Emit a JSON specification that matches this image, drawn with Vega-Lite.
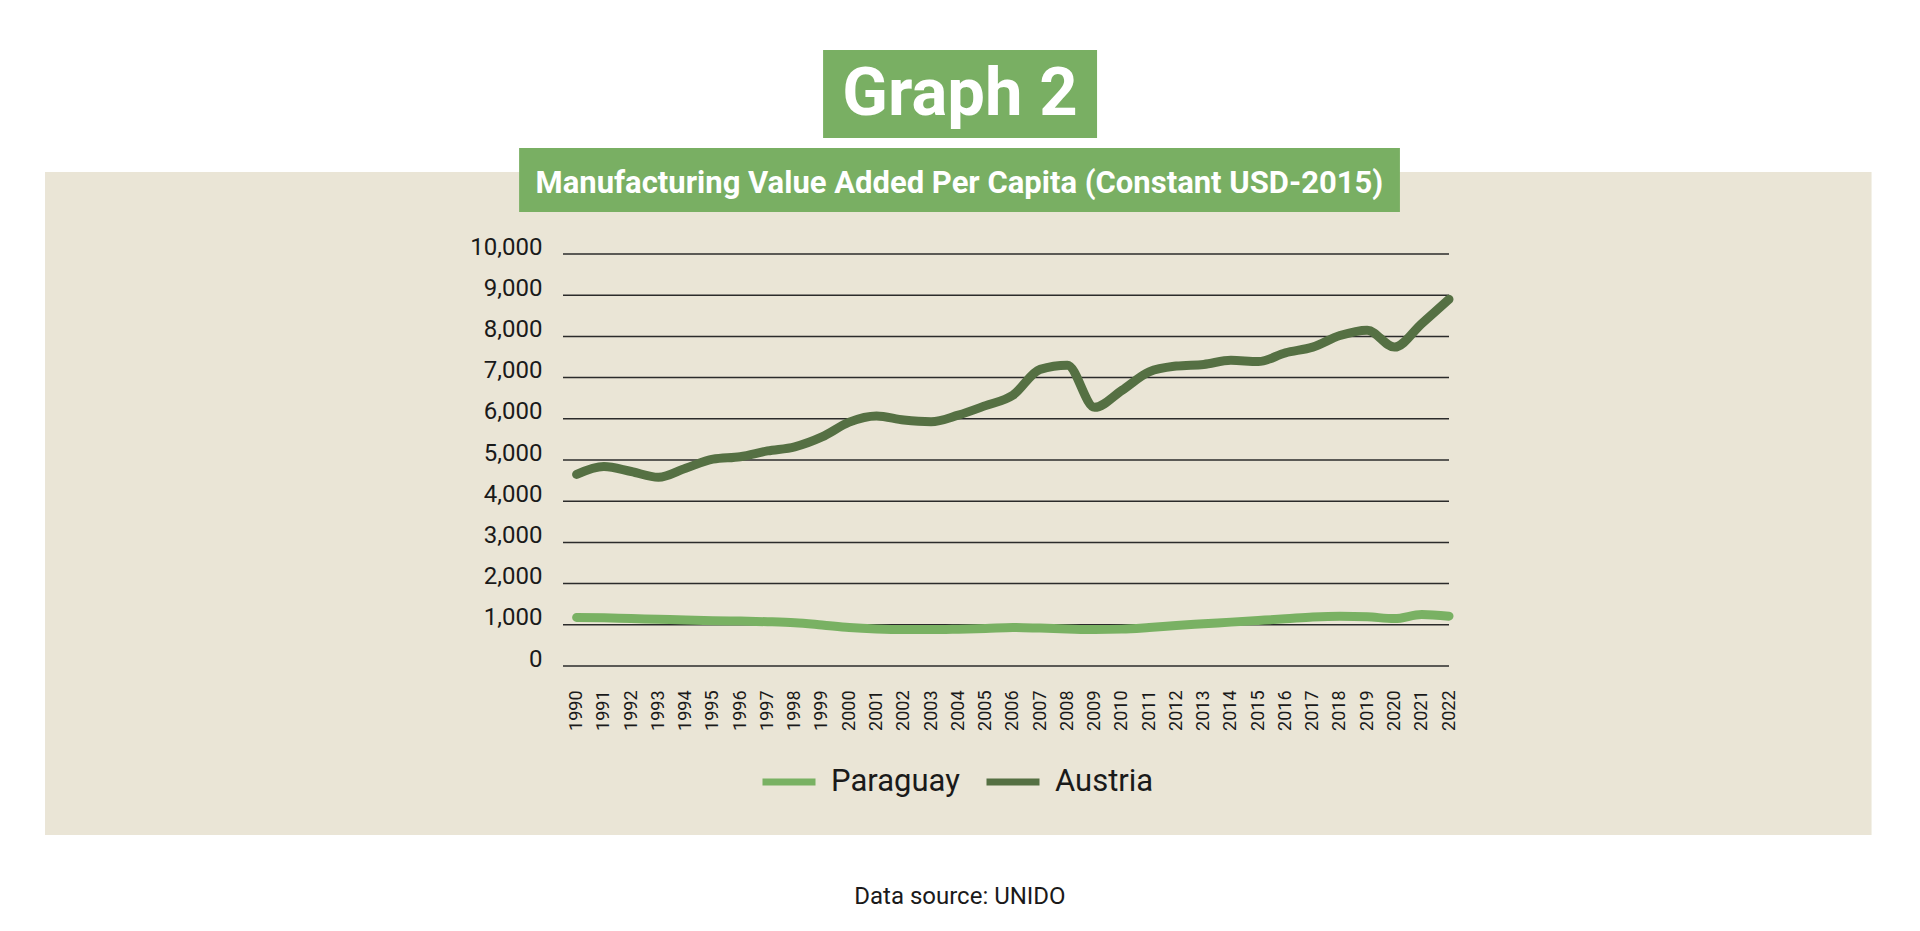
{
  "$schema": "https://vega.github.io/schema/vega-lite/v6.json",
  "autosize": {"type": "none"},
  "width": 886,
  "height": 412,
  "padding": {"left": 563, "top": 254, "right": 471, "bottom": 265},
  "background": "#ffffff",
  "config": {
    "view": {"stroke": null},
    "font": "Roboto"
  },
  "layer": [
    {
      "data": {"values": [{}]},
      "mark": {"type": "rect", "color": "#eae5d6"},
      "encoding": {
        "x": {
          "datum": 1970.5,
          "type": "quantitative",
          "scale": {"domain": [1989.5, 2022], "nice": false, "zero": false},
          "axis": {
            "title": null,
            "zindex": 1,
            "tickCount": 33,
            "format": "d",
            "labelAngle": -90,
            "labelFontSize": 18,
            "labelColor": "#1a1a1a",
            "labelPadding": 24,
            "labelFlush": false,
            "labelOverlap": false,
            "labelBound": false,
            "domain": false,
            "ticks": false,
            "grid": false
          }
        },
        "x2": {"datum": 2037.5},
        "y": {
          "datum": 11990,
          "type": "quantitative",
          "scale": {"domain": [0, 10000], "nice": false},
          "axis": {
            "title": null,
            "zindex": 1,
            "tickCount": 10,
            "format": ",d",
            "labelFontSize": 24,
            "labelColor": "#1a1a1a",
            "labelPadding": 21,
            "labelBaseline": "alphabetic",
            "labelFlush": false,
            "domain": false,
            "ticks": false,
            "grid": false
          }
        },
        "y2": {"datum": -4100}
      }
    },
    {
      "data": {"values": [{}]},
      "mark": {"type": "rect", "color": "#79af63"},
      "encoding": {
        "x": {"datum": 1999.04, "type": "quantitative"},
        "x2": {"datum": 2009.09},
        "y": {"datum": 14952, "type": "quantitative"},
        "y2": {"datum": 12816}
      }
    },
    {
      "data": {"values": [{}]},
      "mark": {"type": "rect", "color": "#79af63"},
      "encoding": {
        "x": {"datum": 1987.89, "type": "quantitative"},
        "x2": {"datum": 2020.2},
        "y": {"datum": 12573, "type": "quantitative"},
        "y2": {"datum": 11019}
      }
    },
    {
      "data": {"values": [{}]},
      "mark": {"type": "text", "text": "Graph 2", "font": "Roboto", "fontWeight": "bold", "fontSize": 67, "color": "#ffffff", "align": "center", "baseline": "alphabetic"},
      "encoding": {
        "x": {"datum": 2004.06, "type": "quantitative"},
        "y": {"datum": 13374, "type": "quantitative"}
      }
    },
    {
      "data": {"values": [{}]},
      "mark": {"type": "text", "text": "Manufacturing Value Added Per Capita (Constant USD-2015)", "font": "Roboto", "fontWeight": "bold", "fontSize": 31, "color": "#ffffff", "align": "center", "baseline": "alphabetic"},
      "encoding": {
        "x": {"datum": 2004.04, "type": "quantitative"},
        "y": {"datum": 11490, "type": "quantitative"}
      }
    },
    {
      "data": {"values": [{}]},
      "mark": {"type": "text", "text": "Data source: UNIDO", "font": "Roboto", "fontSize": 24, "color": "#1a1a1a", "align": "center", "baseline": "alphabetic"},
      "encoding": {
        "x": {"datum": 2004.06, "type": "quantitative"},
        "y": {"datum": -5777, "type": "quantitative"}
      }
    },
    {
      "data": {"values": [{"v": 0}, {"v": 1000}, {"v": 2000}, {"v": 3000}, {"v": 4000}, {"v": 5000}, {"v": 6000}, {"v": 7000}, {"v": 8000}, {"v": 9000}, {"v": 10000}]},
      "mark": {"type": "rule", "color": "#2b2b2b", "strokeWidth": 1.5},
      "encoding": {
        "y": {"field": "v", "type": "quantitative"}
      }
    },
    {
      "data": {
        "values": [
          {"year": 1990, "country": "Paraguay", "value": 1180},
          {"year": 1991, "country": "Paraguay", "value": 1170},
          {"year": 1992, "country": "Paraguay", "value": 1150},
          {"year": 1993, "country": "Paraguay", "value": 1135},
          {"year": 1994, "country": "Paraguay", "value": 1115},
          {"year": 1995, "country": "Paraguay", "value": 1100},
          {"year": 1996, "country": "Paraguay", "value": 1090},
          {"year": 1997, "country": "Paraguay", "value": 1075},
          {"year": 1998, "country": "Paraguay", "value": 1050},
          {"year": 1999, "country": "Paraguay", "value": 995},
          {"year": 2000, "country": "Paraguay", "value": 935},
          {"year": 2001, "country": "Paraguay", "value": 900},
          {"year": 2002, "country": "Paraguay", "value": 885},
          {"year": 2003, "country": "Paraguay", "value": 885},
          {"year": 2004, "country": "Paraguay", "value": 895},
          {"year": 2005, "country": "Paraguay", "value": 910},
          {"year": 2006, "country": "Paraguay", "value": 935},
          {"year": 2007, "country": "Paraguay", "value": 920},
          {"year": 2008, "country": "Paraguay", "value": 900},
          {"year": 2009, "country": "Paraguay", "value": 885},
          {"year": 2010, "country": "Paraguay", "value": 895},
          {"year": 2011, "country": "Paraguay", "value": 935},
          {"year": 2012, "country": "Paraguay", "value": 985},
          {"year": 2013, "country": "Paraguay", "value": 1025},
          {"year": 2014, "country": "Paraguay", "value": 1065},
          {"year": 2015, "country": "Paraguay", "value": 1105},
          {"year": 2016, "country": "Paraguay", "value": 1145},
          {"year": 2017, "country": "Paraguay", "value": 1190},
          {"year": 2018, "country": "Paraguay", "value": 1210},
          {"year": 2019, "country": "Paraguay", "value": 1195},
          {"year": 2020, "country": "Paraguay", "value": 1150},
          {"year": 2021, "country": "Paraguay", "value": 1250},
          {"year": 2022, "country": "Paraguay", "value": 1210},
          {"year": 1990, "country": "Austria", "value": 4650},
          {"year": 1991, "country": "Austria", "value": 4840},
          {"year": 1992, "country": "Austria", "value": 4720},
          {"year": 1993, "country": "Austria", "value": 4580},
          {"year": 1994, "country": "Austria", "value": 4800},
          {"year": 1995, "country": "Austria", "value": 5020},
          {"year": 1996, "country": "Austria", "value": 5080},
          {"year": 1997, "country": "Austria", "value": 5220},
          {"year": 1998, "country": "Austria", "value": 5320},
          {"year": 1999, "country": "Austria", "value": 5560},
          {"year": 2000, "country": "Austria", "value": 5920},
          {"year": 2001, "country": "Austria", "value": 6070},
          {"year": 2002, "country": "Austria", "value": 5970},
          {"year": 2003, "country": "Austria", "value": 5930},
          {"year": 2004, "country": "Austria", "value": 6090},
          {"year": 2005, "country": "Austria", "value": 6320},
          {"year": 2006, "country": "Austria", "value": 6570},
          {"year": 2007, "country": "Austria", "value": 7200},
          {"year": 2008, "country": "Austria", "value": 7300},
          {"year": 2009, "country": "Austria", "value": 6280},
          {"year": 2010, "country": "Austria", "value": 6690},
          {"year": 2011, "country": "Austria", "value": 7140},
          {"year": 2012, "country": "Austria", "value": 7280},
          {"year": 2013, "country": "Austria", "value": 7320},
          {"year": 2014, "country": "Austria", "value": 7420},
          {"year": 2015, "country": "Austria", "value": 7390},
          {"year": 2016, "country": "Austria", "value": 7600},
          {"year": 2017, "country": "Austria", "value": 7740},
          {"year": 2018, "country": "Austria", "value": 8020},
          {"year": 2019, "country": "Austria", "value": 8150},
          {"year": 2020, "country": "Austria", "value": 7740},
          {"year": 2021, "country": "Austria", "value": 8310},
          {"year": 2022, "country": "Austria", "value": 8900}
        ]
      },
      "mark": {"type": "line", "interpolate": "monotone", "strokeWidth": 9, "strokeCap": "round", "strokeJoin": "round"},
      "encoding": {
        "x": {"field": "year", "type": "quantitative"},
        "y": {"field": "value", "type": "quantitative"},
        "color": {
          "field": "country",
          "type": "nominal",
          "sort": ["Paraguay", "Austria"],
          "scale": {"domain": ["Paraguay", "Austria"], "range": ["#79b163", "#557043"]},
          "legend": {
            "title": null,
            "orient": "none",
            "direction": "horizontal",
            "legendX": 196,
            "legendY": 498,
            "padding": 0,
            "symbolType": "stroke",
            "symbolSize": 2809,
            "symbolStrokeWidth": 7,
            "labelFontSize": 31,
            "labelColor": "#1a1a1a",
            "labelOffset": 12,
            "columnPadding": 12
          }
        }
      }
    }
  ]
}
